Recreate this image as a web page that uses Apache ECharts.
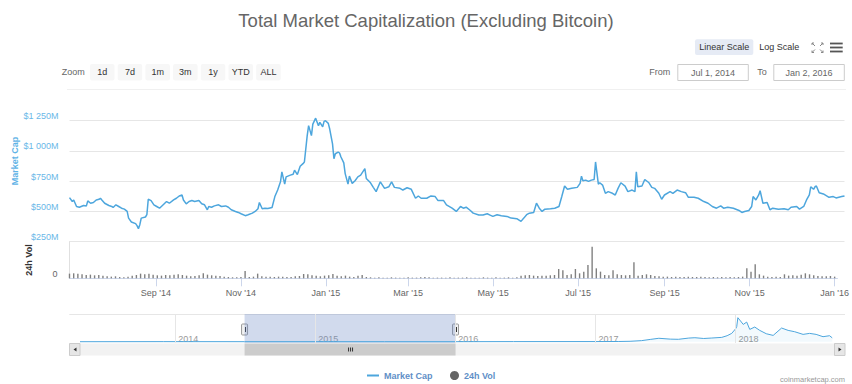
<!DOCTYPE html>
<html><head><meta charset="utf-8">
<script src="https://cdn.jsdelivr.net/npm/echarts@6/dist/echarts.min.js"></script>
<style>html,body{margin:0;padding:0;background:#fff}#c{width:852px;height:384px}</style>
</head><body><div id="c"></div>
<script>
const FONT = '"Liberation Sans", Arial, Helvetica, sans-serif';
const DAY = 86400000;
const toMs = s => { const p = s.split('-').map(Number); return Date.UTC(p[0], p[1] - 1, p[2]); };

// ---- data ----
const titleText = 'Total Market Capitalization (Excluding Bitcoin)';
const rangeStart = '2014-07-01';
const rangeEnd = '2016-01-02';
const viewEnd = '2016-01-03';

// Market cap (USD millions), day offsets from rangeStart
const capDays = [0,2,3,5,7,10,12,13,15,17,19,21,22,23,25,28,30,31,33,35,37,39,41,42,44,47,48,49,50,51,54,55,56,58,60,62,64,67,69,71,74,76,78,80,81,83,85,87,89,92,94,96,98,99,101,103,106,108,111,113,115,118,120,122,125,127,130,132,134,135,137,139,141,144,146,148,150,151,153,154,157,159,160,162,164,166,167,169,170,172,173,175,177,178,180,181,
182,184,185,187,188,189,191,192,193,195,196,198,199,201,203,205,207,210,211,214,216,218,221,224,227,229,231,235,237,240,243,246,248,250,254,257,260,262,266,268,272,275,278,280,282,285,287,291,294,297,299,301,304,307,311,314,318,321,323,325,327,330,332,334,336,338,342,345,348,350,352,354,357,361,363,364,365,
367,369,371,373,374,376,377,379,381,383,386,388,390,392,395,397,400,402,403,404,407,409,412,414,416,419,421,423,427,429,432,435,438,440,444,447,451,454,457,460,463,465,468,472,476,478,480,483,485,486,488,490,491,493,496,498,500,504,508,511,513,517,519,522,524,526,527,529,530,531,533,536,540,543,545,549,551];
const capValues = [614,582,595,541,535,549,546,587,568,574,595,600,609,595,568,549,541,533,555,541,527,519,500,445,413,399,383,358,391,445,454,473,601,590,555,541,527,560,582,568,595,609,628,636,595,563,582,590,582,590,563,555,514,541,535,546,555,541,546,535,514,500,492,481,465,473,486,500,522,574,522,527,525,533,623,677,745,827,726,786,800,808,841,805,873,895,909,1127,1209,1127,1222,1271,1209,1236,1200,1244,
1250,1228,1181,1059,936,977,991,983,950,901,813,726,792,732,754,786,800,854,773,737,699,664,745,691,704,745,699,691,677,696,683,609,628,609,609,628,623,590,590,555,527,500,541,527,535,508,486,470,470,481,470,459,473,465,459,445,440,418,445,473,486,492,568,527,500,519,522,527,541,623,710,683,691,699,732,792,754,
759,748,759,764,909,726,737,718,650,664,650,636,691,737,710,664,677,664,827,704,710,764,737,699,691,650,601,636,664,650,677,664,655,617,617,609,582,568,541,527,546,527,535,527,508,492,500,508,541,623,595,636,672,568,574,514,527,519,522,514,535,541,519,541,595,636,704,683,704,710,655,645,617,623,612,623,628];

// 24h volume (USD millions), one value every volStepDays from rangeStart
const volStepDays = 3;
const volValues = [42,45,40,36,30,33,27,30,24,18,15,18,12,9,15,24,30,42,36,42,33,27,24,30,27,33,36,30,24,18,21,27,45,33,27,24,21,15,12,9,9,12,66,12,15,42,18,15,15,12,15,15,12,12,18,21,39,36,27,24,18,24,27,39,24,18,24,15,12,24,30,12,9,6,9,6,6,9,6,6,6,9,6,6,9,12,9,6,6,6,6,9,6,6,6,9,6,6,6,9,6,6,9,6,6,9,6,9,24,27,30,24,21,24,24,27,30,84,72,30,36,84,45,60,120,285,90,60,30,27,72,36,30,27,30,144,24,30,36,30,21,18,15,15,12,15,12,12,15,12,12,15,12,9,12,9,12,9,12,9,12,15,90,60,126,36,24,15,12,15,12,36,24,27,24,33,45,36,27,21,18,18,21,15];

// x-axis tick labels
const xTickDates = ['2014-09-01','2014-11-01','2015-01-01','2015-03-01','2015-05-01','2015-07-01','2015-09-01','2015-11-01','2016-01-01'];
const monthNames = ['Jan','Feb','Mar','Apr','May','Jun','Jul','Aug','Sep','Oct','Nov','Dec'];
const yTickValues = [250, 500, 750, 1000, 1250];

// navigator: full history (USD billions)
const navStart = '2013-04-28';
const navEnd = '2018-09-12';
const navDates = ['2013-04-28','2013-12-01','2014-01-01','2014-07-01','2015-01-01','2015-07-01','2016-01-01','2016-06-01','2017-01-01','2017-03-01','2017-04-01','2017-05-01','2017-05-25','2017-06-15','2017-07-15','2017-08-05','2017-09-01','2017-09-17','2017-10-10','2017-10-31','2017-11-26','2017-12-10','2017-12-22','2018-01-01','2018-01-04','2018-01-07','2018-01-12','2018-01-21','2018-01-30','2018-02-07','2018-02-20','2018-03-05','2018-03-22','2018-04-09','2018-05-01','2018-05-18','2018-06-04','2018-06-26','2018-07-13','2018-07-30','2018-08-17','2018-09-03','2018-09-10'];
const navValues = [0.2,2.0,1.5,0.6,1.2,0.7,0.6,2.5,3.5,5,10,25,55,80,60,56,85,93,75,86,101,140,194,300,350,560,505,403,458,287,342,264,186,147,319,264,233,171,194,171,117,140,90];
const navYears = ['2014-01-01','2015-01-01','2016-01-01','2017-01-01','2018-01-01'];

const zoomButtons = ['1d','7d','1m','3m','1y','YTD','ALL'];
const fromText = 'Jul 1, 2014';
const toText = 'Jan 2, 2016';

// ---- build ----
const startMs = toMs(rangeStart);
const capData = capDays.map((d, i) => [startMs + d * DAY, capValues[i]]);
const volData = volValues.map((v, i) => [startMs + i * volStepDays * DAY, v]);
const navData = navDates.map((d, i) => [toMs(d), navValues[i]]);
const xTickMs = xTickDates.map(toMs);
const navYearMs = navYears.map(toMs);

const fmtCap = v => {
  const s = v >= 1000 ? Math.floor(v / 1000) + ' ' + String(v % 1000).padStart(3, '0') : String(v);
  return '$' + s + 'M';
};
const fmtMonth = v => { const d = new Date(v); return monthNames[d.getUTCMonth()] + " '" + String(d.getUTCFullYear()).slice(2); };

const chart = echarts.init(document.getElementById('c'), null, { renderer: 'svg' });

const option = {
  animation: false,
  backgroundColor: '#ffffff',
  textStyle: { fontFamily: FONT },
  title: {
    text: titleText, left: 'center', top: 6,
    textStyle: { fontSize: 18.5, fontWeight: 'normal', color: '#666666', fontFamily: FONT }
  },
  legend: [
    { data: [{ name: 'Market Cap', icon: 'rect' }], left: 362, top: 366, itemWidth: 12, itemHeight: 2, itemGap: 0,
      textStyle: { fontSize: 9, fontWeight: 'bold', color: '#5f8fc7', fontFamily: FONT } },
    { data: [{ name: '24h Vol', icon: 'circle', itemStyle: { color: '#666666' } }], left: 445, top: 366, itemWidth: 9, itemHeight: 9, itemGap: 0,
      textStyle: { fontSize: 9, fontWeight: 'bold', color: '#5f8fc7', fontFamily: FONT } }
  ],
  grid: [
    { left: 69.5, right: 7.5, top: 120.7, height: 121 },
    { left: 69.5, right: 7.5, top: 241.7, height: 36.6 },
    { left: 80, right: 19, top: 314, height: 29 }
  ],
  xAxis: [
    { gridIndex: 0, type: 'value', min: startMs, max: toMs(viewEnd), show: false, splitLine: { show: false } },
    { gridIndex: 1, type: 'value', min: startMs, max: toMs(viewEnd),
      axisLine: { show: true, lineStyle: { color: '#ccd6eb', width: 1 } },
      axisTick: { show: true, customValues: xTickMs, length: 8, lineStyle: { color: '#ccd6eb' } },
      axisLabel: { customValues: xTickMs, formatter: fmtMonth, color: '#666666', fontSize: 9, margin: 10, fontFamily: FONT },
      splitLine: { show: false } },
    { gridIndex: 2, type: 'value', min: toMs(navStart), max: toMs(navEnd),
      axisLine: { show: false }, axisTick: { show: false },
      axisLabel: { customValues: navYearMs, inside: true, formatter: v => String(new Date(v).getUTCFullYear()),
        color: '#999999', fontSize: 9, align: 'left', padding: [0, 0, 0, 3], margin: 0, fontFamily: FONT },
      splitLine: { show: false } }
  ],
  yAxis: [
    { gridIndex: 0, type: 'value', min: yTickValues[0], max: yTickValues[yTickValues.length - 1], interval: 250,
      axisLine: { show: false }, axisTick: { show: false },
      splitLine: { show: true, lineStyle: { color: '#e6e6e6', width: 1 } },
      axisLabel: { formatter: fmtCap, color: '#6ab8e8', fontSize: 9, margin: 11, verticalAlign: 'bottom', fontFamily: FONT } },
    { gridIndex: 1, type: 'value', min: 0, max: 330, interval: 330,
      axisLine: { show: true, lineStyle: { color: '#e0e0e0' } }, axisTick: { show: false },
      splitLine: { show: true, lineStyle: { color: '#e6e6e6' } },
      axisLabel: { formatter: v => (v === 0 ? '0' : ''), color: '#666666', fontSize: 9, margin: 12, verticalAlign: 'bottom', fontFamily: FONT } },
    { gridIndex: 2, type: 'value', min: -30, max: 646, show: false, splitLine: { show: false } }
  ],
  series: [
    { name: 'Market Cap', type: 'line', xAxisIndex: 0, yAxisIndex: 0, data: capData, showSymbol: false, clip: false,
      lineStyle: { width: 1.5, color: '#4da6dd' }, itemStyle: { color: '#4da6dd' }, z: 3 },
    { name: '24h Vol', type: 'bar', xAxisIndex: 1, yAxisIndex: 1, data: volData, barWidth: 1.4,
      itemStyle: { color: '#808080' } },
    { name: 'nav', type: 'line', xAxisIndex: 2, yAxisIndex: 2, data: navData, showSymbol: false,
      lineStyle: { width: 1, color: '#4da6dd' }, areaStyle: { color: 'rgba(77,166,221,0.1)' },
      markArea: { silent: true, itemStyle: { color: 'rgba(102,133,194,0.3)' },
        data: [[{ xAxis: startMs }, { xAxis: toMs(rangeEnd) }]] },
      markLine: { silent: true, symbol: ['none', 'none'], label: { show: false },
        lineStyle: { color: '#e6e6e6', width: 1, type: 'solid' },
        data: navYearMs.map(v => ({ xAxis: v })) } }
  ]
};
chart.setOption(option);

// ---- chrome (toolbar, navigator handles, scrollbar) ----
const g = [];
const txt = (text, x, y, o = {}) => g.push({ type: 'text', x, y, silent: true, rotation: o.rot || 0,
  style: { text, fill: o.fill || '#333333', font: (o.bold ? 'bold ' : '') + (o.size || 9) + 'px ' + FONT,
    align: o.align || 'left', verticalAlign: 'middle' } });
const rect = (x, y, w, h, fill, stroke, r) => g.push({ type: 'rect', silent: true, shape: { x, y, width: w, height: h, r: r || 0 },
  style: { fill, stroke: stroke || null, lineWidth: 1 } });
const line = (x1, y1, x2, y2, stroke, w) => g.push({ type: 'line', silent: true, shape: { x1, y1, x2, y2 }, style: { stroke, lineWidth: w || 1 } });

txt('Zoom', 61.7, 72.3, { fill: '#666666' });
zoomButtons.forEach((b, i) => {
  const x = 90 + i * 27.7;
  rect(x, 64, 24.5, 16.5, '#f7f7f7', null, 2);
  txt(b, x + 12.25, 72.3, { align: 'center' });
});
rect(695, 39.3, 58.3, 15.7, '#e6ebf5', null, 2);
txt('Linear Scale', 724.2, 47.2, { align: 'center' });
txt('Log Scale', 779.3, 47.2, { align: 'center' });
// fullscreen icon
[[812, 43, 1, 1], [823, 43, -1, 1], [812, 52.5, 1, -1], [823, 52.5, -1, -1]].forEach(([x, y, dx, dy]) => {
  line(x, y, x + 3 * dx, y + 3 * dy, '#888888', 1);
  line(x, y, x + 2 * dx, y, '#888888', 1);
  line(x, y, x, y + 2 * dy, '#888888', 1);
});
[42.6, 46.6, 50.6].forEach(y => rect(830, y, 12.7, 1.8, '#555555'));
txt('From', 649.3, 72.3, { fill: '#666666' });
rect(677.8, 64.5, 70.5, 16, '#ffffff', '#cccccc');
txt(fromText, 713, 72.5, { align: 'center', fill: '#666666' });
txt('To', 757.3, 72.3, { fill: '#666666' });
rect(773.8, 64.5, 70.5, 16, '#ffffff', '#cccccc');
txt(toText, 809, 72.5, { align: 'center', fill: '#666666' });
line(67, 89.5, 846, 89.5, '#f0f0f0', 1);

// axis titles
txt('Market Cap', 14.5, 161, { rot: Math.PI / 2, bold: true, fill: '#5fb3e6', align: 'center' });
txt('24h Vol', 28.5, 260, { rot: Math.PI / 2, bold: true, fill: '#333333', align: 'center' });

// navigator outline & scrollbar
line(69.3, 314.5, 845, 314.5, '#e6e6e6', 1);
const pS = chart.convertToPixel({ xAxisIndex: 2 }, startMs);
const pE = chart.convertToPixel({ xAxisIndex: 2 }, toMs(rangeEnd));
rect(69.3, 343.5, 775.7, 12, '#f2f2f2');
rect(pS, 343.5, pE - pS, 12, '#cccccc');
const cx = (pS + pE) / 2;
[-2, 0, 2].forEach(d => line(cx + d + 0.5, 347.5, cx + d + 0.5, 351.5, '#333333', 1));
rect(69.5, 343.5, 10.5, 12, '#e6e6e6', '#cccccc');
g.push({ type: 'polygon', silent: true, shape: { points: [[73.5, 349.5], [76.5, 347.5], [76.5, 351.5]] }, style: { fill: '#333333' } });
rect(834.5, 343.5, 10.5, 12, '#e6e6e6', '#cccccc');
g.push({ type: 'polygon', silent: true, shape: { points: [[841.5, 349.5], [838.5, 347.5], [838.5, 351.5]] }, style: { fill: '#333333' } });
[pS, pE].forEach(p => {
  rect(p - 3, 324, 6, 11, '#f2f2f2', '#999999', 1);
  line(Math.round(p) + 0.5, 327, Math.round(p) + 0.5, 332, '#333333', 1);
});
txt('coinmarketcap.com', 845, 379, { align: 'right', fill: '#999999', size: 7.5 });

chart.setOption({ graphic: g });
</script></body></html>
